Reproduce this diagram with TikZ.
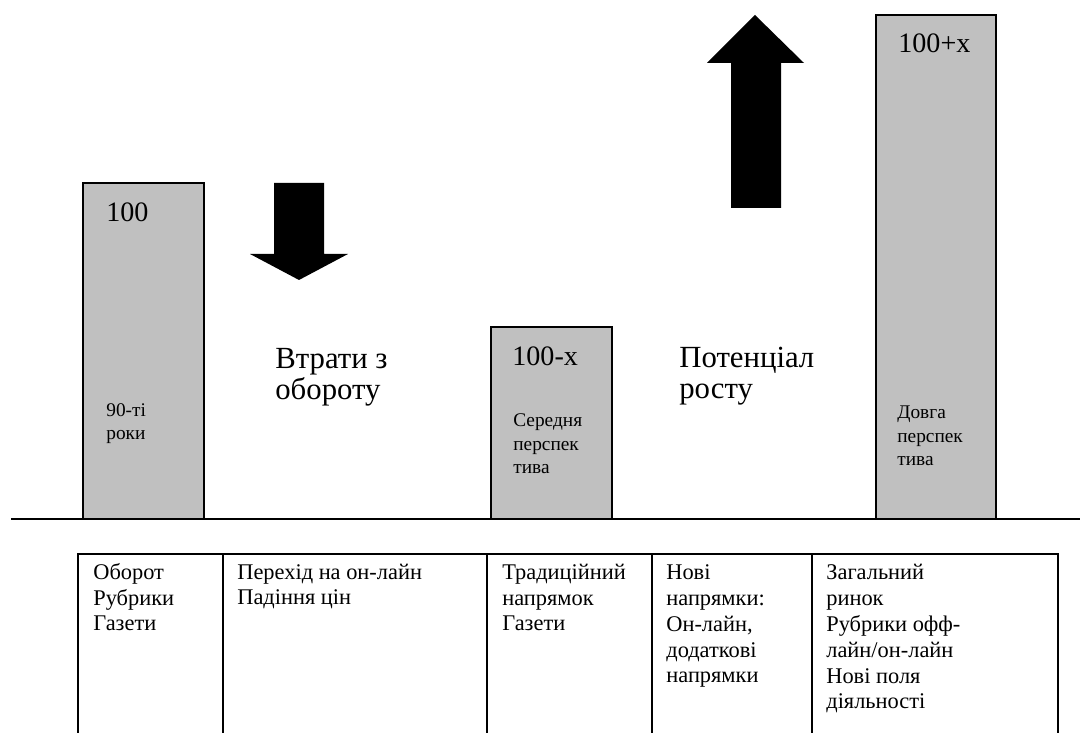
\documentclass[tikz,border=0pt]{standalone}
\usepackage{fontspec}
\setmainfont{Liberation Serif}
\usetikzlibrary{calc,positioning}
\definecolor{barfill}{RGB}{192,192,192}

\begin{document}
\begin{tikzpicture}[
        bar/.style={draw, fill=barfill, line width=1pt},
        rule/.style={line width=1.25pt},
        numtxt/.style={anchor=base west, inner sep=0pt, font=\fontsize{16}{18}\selectfont},
        bigtxt/.style={anchor=base west, inner sep=0pt, align=left, font=\fontsize{17.5}{18.2}\selectfont},
        smalltxt/.style={anchor=base west, inner sep=0pt, align=left, font=\fontsize{11}{13.6}\selectfont},
        celltxt/.style={anchor=base west, inner sep=0pt, align=left, font=\fontsize{12.75}{14.75}\selectfont}]
        \useasboundingbox (0,0) rectangle (21.64,14.66);
        % Draw background grid
        %\draw[step=1cm,gray,very thin] (0,0) grid (21,14);
        % Define coordinates
        \coordinate (G1) at (0.22,4.28);
        \coordinate (G2) at (21.6,4.28);
        % Draw the bars
        \draw[bar] (1.66,4.28) rectangle (4.08,11.0);
        \draw[bar] (9.82,4.28) rectangle (12.24,8.12);
        \draw[bar] (17.52,4.28) rectangle (19.92,14.36);
        % Ground line
        \draw[rule] (G1) -- (G2);
        % Down and up arrows
        \fill (5.48,11.0) -- (6.48,11.0) -- (6.48,9.58) -- (6.96,9.58) -- (5.98,9.06)
            -- (5.0,9.58) -- (5.48,9.58) -- cycle;
        \fill (14.62,10.5) -- (15.62,10.5) -- (15.62,13.4) -- (16.08,13.4) -- (15.1,14.36)
            -- (14.14,13.4) -- (14.62,13.4) -- cycle;
        % Labels of the bars (base = last line)
        \node[numtxt] (v1) at (2.12,10.22) {100};
        \node[numtxt] (v2) at (10.24,7.34) {100-x};
        \node[numtxt] (v3) at (17.96,13.6) {100+x};
        \node[smalltxt] (p1) at (2.12,5.86) {90-ті\\роки};
        \node[smalltxt] (p2) at (10.26,5.18) {Середня\\перспек\\тива};
        \node[smalltxt] (p3) at (17.94,5.34) {Довга\\перспек\\тива};
        % Texts beside the arrows
        \node[bigtxt] (loss) at (5.5,6.66) {Втрати з\\обороту};
        \node[bigtxt] (grow) at (13.58,6.68) {Потенціал\\росту};
        % Table
        \draw[rule] (1.56,0) -- (1.56,3.58) -- (21.16,3.58) -- (21.16,0);
        \foreach \x in {4.46,9.74,13.04,16.24}
            \draw[rule] (\x,0) -- (\x,3.58);
        \node[celltxt] (c1) at (1.86,2.04) {Оборот\\Рубрики\\Газети};
        \node[celltxt] (c2) at (4.74,2.56) {Перехід на он-лайн\\Падіння цін};
        \node[celltxt] (c3) at (10.04,2.04) {Традиційний\\напрямок\\Газети};
        \node[celltxt] (c4) at (13.32,1.00) {Нові\\напрямки:\\Он-лайн,\\додаткові\\напрямки};
        \node[celltxt] (c5) at (16.52,0.48) {Загальний\\ринок\\Рубрики офф-\\лайн/он-лайн\\Нові поля\\діяльності};
      \end{tikzpicture}
\end{document}
